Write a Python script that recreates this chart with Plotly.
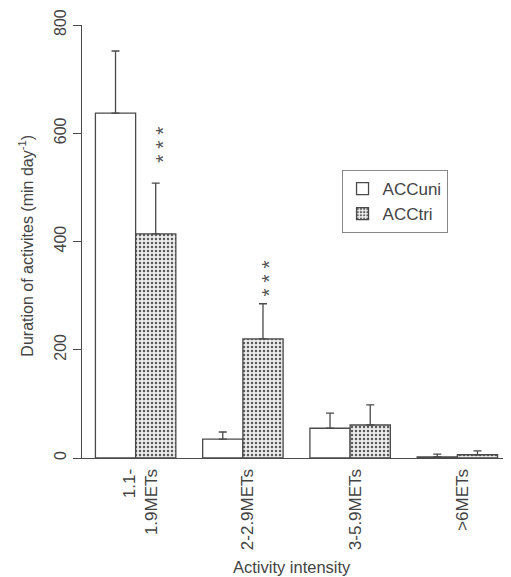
import plotly.graph_objects as go

categories = ["1.1-<br>1.9METs", "2-2.9METs", "3-5.9METs", ">6METs"]
acc_uni = [637, 35, 55, 2]
acc_uni_sd = [115, 13, 28, 5]
acc_tri = [414, 220, 61, 6]
acc_tri_sd = [94, 65, 37, 7]
sig_labels = ["* * *", "* * *", "", ""]
sig_lift = [38, 25, 0, 0]

FONT = "Liberation Sans, Arial, Helvetica, sans-serif"
INK = "#4a4a4a"
TXT = "#444444"

fig = go.Figure()
fig.add_trace(go.Bar(
    name="ACCuni", x=categories, y=acc_uni,
    marker=dict(color="white", line=dict(color=INK, width=1.3)),
    error_y=dict(type="data", symmetric=False, array=acc_uni_sd,
                 arrayminus=[0] * len(acc_uni), color=INK, thickness=1.3, width=4),
))
fig.add_trace(go.Bar(
    name="ACCtri", x=categories, y=acc_tri,
    marker=dict(color="#e4e4e4", line=dict(color=INK, width=1.3),
                pattern=dict(shape=".", fgcolor="#5a5a5a", bgcolor="#ececec",
                             size=4, solidity=0.3, fillmode="replace")),
    error_y=dict(type="data", symmetric=False, array=acc_tri_sd,
                 arrayminus=[0] * len(acc_tri), color=INK, thickness=1.3, width=4),
))

annotations = []
for i, lab in enumerate(sig_labels):
    if not lab:
        continue
    annotations.append(dict(
        x=categories[i], y=acc_tri[i] + acc_tri_sd[i], xref="x", yref="y",
        text=lab, showarrow=False, textangle=-90, xshift=26, yshift=sig_lift[i],
        font=dict(family=FONT, size=21, color="#555555"),
        yanchor="middle", xanchor="center",
    ))
annotations.append(dict(
    x=-0.131, y=0.49, xref="paper", yref="paper",
    text="Duration of activites (min day<sup>-1</sup>)", showarrow=False,
    textangle=-90, font=dict(family=FONT, size=16, color=TXT),
    xanchor="center", yanchor="middle",
))
annotations.append(dict(
    x=0.49, y=-0.252, xref="paper", yref="paper",
    text="Activity intensity", showarrow=False,
    font=dict(family=FONT, size=16.5, color=TXT),
    xanchor="center", yanchor="middle",
))

fig.update_layout(
    width=503, height=569,
    margin=dict(l=74, r=0, t=17, b=119),
    paper_bgcolor="white", plot_bgcolor="white",
    barmode="group", bargap=0.25, bargroupgap=0,
    font=dict(family=FONT, size=15, color=TXT),
    annotations=annotations,
    legend=dict(x=0.605, y=0.665, xanchor="left", yanchor="top",
                bordercolor="#888888", borderwidth=1, bgcolor="white",
                font=dict(family=FONT, size=17, color=TXT),
                tracegroupgap=0, itemwidth=30),
    xaxis=dict(showline=True, linecolor=INK, linewidth=1.3, ticks="",
               tickangle=-90, showgrid=False, zeroline=False,
               ticklabelshift=5, ticklabelstandoff=3,
               tickfont=dict(family=FONT, size=17, color=TXT)),
    yaxis=dict(range=[0, 800], tickvals=[0, 200, 400, 600, 800],
               showline=True, linecolor=INK, linewidth=1.3,
               ticks="outside", ticklen=8, tickcolor=INK, tickwidth=1.3,
               tickangle=-90, showgrid=False, zeroline=False,
               tickfont=dict(family=FONT, size=16, color=TXT)),
)

fig.write_html("out.html")
